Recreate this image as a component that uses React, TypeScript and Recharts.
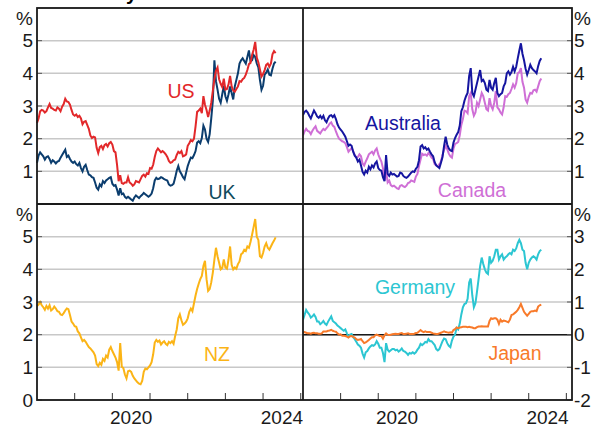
import React from 'react';
import { LineChart, Line, XAxis, YAxis, CartesianGrid, ReferenceLine } from 'recharts';

// semi-monthly readings, Jan 2018 to May 2024
const START_YEAR = 2018;
const STEPS_PER_YEAR = 24;

const usYields = [
  2.48, 2.62, 2.84, 2.88, 2.86, 2.80, 2.84, 2.96, 3.06, 2.94, 2.92, 2.88, 2.86, 2.96, 2.92, 2.84, 2.98, 3.06, 3.22, 3.14, 3.12, 3.04, 2.88, 2.74,
  2.70, 2.74, 2.66, 2.70, 2.62, 2.44, 2.52, 2.54, 2.42, 2.30, 2.10, 2.02, 2.06, 2.04, 1.72, 1.56, 1.74, 1.78, 1.68, 1.80, 1.84, 1.76, 1.86, 1.90,
  1.82, 1.62, 1.58, 1.20, 0.70, 0.88, 0.64, 0.62, 0.66, 0.66, 0.82, 0.66, 0.62, 0.56, 0.60, 0.70, 0.68, 0.66, 0.76, 0.86, 0.90, 0.84, 0.94, 0.92,
  1.10, 1.08, 1.20, 1.44, 1.62, 1.70, 1.64, 1.58, 1.62, 1.58, 1.52, 1.44, 1.32, 1.26, 1.28, 1.34, 1.36, 1.50, 1.60, 1.56, 1.62, 1.46, 1.48, 1.52,
  1.78, 1.86, 1.96, 1.92, 2.00, 2.38, 2.82, 2.86, 2.92, 2.78, 3.30, 3.04, 2.88, 2.66, 2.86, 3.10, 3.46, 3.82, 4.08, 4.18, 3.82, 3.68, 3.58, 3.84,
  3.50, 3.52, 3.66, 3.92, 3.60, 3.48, 3.44, 3.52, 3.60, 3.76, 3.74, 3.82, 3.86, 3.96, 4.10, 4.28, 4.32, 4.56, 4.72, 4.96, 4.48, 4.34, 4.12, 3.90,
  3.98, 4.10, 4.26, 4.30, 4.20, 4.30, 4.58, 4.68, 4.62,
];

const ukYields = [
  1.26, 1.48, 1.58, 1.52, 1.46, 1.36, 1.44, 1.46, 1.38, 1.26, 1.34, 1.30, 1.24, 1.30, 1.32, 1.42, 1.50, 1.58, 1.66, 1.44, 1.48, 1.38, 1.30, 1.26,
  1.30, 1.22, 1.18, 1.26, 1.10, 1.00, 1.14, 1.20, 1.04, 0.90, 0.88, 0.82, 0.80, 0.66, 0.50, 0.44, 0.60, 0.54, 0.70, 0.64, 0.72, 0.76, 0.80, 0.82,
  0.62, 0.56, 0.58, 0.44, 0.26, 0.48, 0.30, 0.32, 0.22, 0.18, 0.22, 0.18, 0.14, 0.10, 0.20, 0.26, 0.22, 0.18, 0.24, 0.28, 0.34, 0.30, 0.26, 0.22,
  0.26, 0.32, 0.48, 0.72, 0.80, 0.76, 0.78, 0.82, 0.80, 0.76, 0.74, 0.72, 0.60, 0.56, 0.58, 0.62, 0.80, 1.02, 1.16, 1.00, 0.92, 0.82, 0.76, 0.96,
  1.16, 1.30, 1.42, 1.40, 1.50, 1.62, 1.88, 1.92, 1.86, 2.02, 2.40, 2.28, 2.00, 1.90, 2.14, 2.62, 3.16, 4.40, 3.76, 3.50, 3.22, 3.10, 3.36, 3.62,
  3.30, 3.16, 3.36, 3.60, 3.40, 3.20, 3.60, 3.80, 4.00, 4.30, 4.40, 4.46, 4.38, 4.30, 4.50, 4.70, 4.36, 4.40, 4.56, 4.50, 4.30, 4.18, 3.80, 3.50,
  3.62, 3.96, 4.02, 4.12, 3.96, 3.94, 4.14, 4.30, 4.36,
];

const australiaYields = [
  2.72, 2.82, 2.86, 2.80, 2.70, 2.62, 2.74, 2.86, 2.78, 2.68, 2.64, 2.70, 2.62, 2.70, 2.56, 2.50, 2.62, 2.70, 2.72, 2.66, 2.72, 2.60, 2.44, 2.34,
  2.28, 2.22, 2.14, 2.06, 1.92, 1.78, 1.82, 1.78, 1.60, 1.48, 1.42, 1.30, 1.36, 1.18, 0.98, 0.90, 1.02, 0.96, 1.14, 1.06, 1.18, 1.12, 1.24, 1.30,
  1.10, 1.04, 1.02, 0.82, 0.70, 1.50, 0.92, 0.86, 0.96, 0.90, 0.92, 0.88, 0.84, 0.86, 0.96, 0.94, 0.86, 0.82, 0.80, 0.84, 0.90, 0.96, 1.00, 0.98,
  1.08, 1.14, 1.34, 1.76, 1.80, 1.70, 1.74, 1.66, 1.70, 1.60, 1.52, 1.46, 1.28, 1.18, 1.14, 1.10, 1.26, 1.44, 1.78, 2.06, 1.82, 1.70, 1.64, 1.62,
  1.88, 2.02, 2.12, 2.20, 2.40, 2.84, 2.96, 3.16, 3.30, 3.40, 3.92, 4.16, 3.40, 3.30, 3.50, 3.70, 3.90, 4.10, 3.76, 3.80, 3.70, 3.50, 3.46, 3.80,
  3.56, 3.50, 3.70, 3.86, 3.40, 3.30, 3.36, 3.40, 3.60, 3.70, 4.00, 4.06, 3.96, 4.04, 4.20, 4.06, 4.20, 4.46, 4.70, 4.92, 4.60, 4.40, 4.14, 3.96,
  4.10, 4.26, 4.16, 4.10, 4.06, 4.00, 4.22, 4.38, 4.46,
];

const canadaYields = [
  2.10, 2.22, 2.30, 2.24, 2.22, 2.14, 2.24, 2.32, 2.38, 2.24, 2.20, 2.16, 2.24, 2.30, 2.26, 2.32, 2.38, 2.46, 2.50, 2.40, 2.36, 2.22, 2.10, 2.00,
  1.96, 1.92, 1.90, 1.86, 1.74, 1.60, 1.66, 1.72, 1.62, 1.50, 1.42, 1.44, 1.52, 1.46, 1.24, 1.18, 1.30, 1.40, 1.52, 1.56, 1.60, 1.52, 1.64, 1.70,
  1.52, 1.40, 1.30, 1.10, 0.72, 1.04, 0.66, 0.72, 0.58, 0.54, 0.56, 0.52, 0.48, 0.46, 0.56, 0.58, 0.54, 0.52, 0.56, 0.64, 0.66, 0.72, 0.70, 0.68,
  0.84, 0.92, 1.16, 1.36, 1.54, 1.50, 1.52, 1.48, 1.56, 1.50, 1.42, 1.38, 1.22, 1.18, 1.16, 1.22, 1.30, 1.50, 1.66, 1.78, 1.68, 1.54, 1.46, 1.42,
  1.70, 1.84, 1.86, 1.90, 2.10, 2.42, 2.60, 2.86, 2.84, 2.78, 3.30, 3.40, 2.90, 2.70, 2.80, 3.10, 3.00, 3.20, 3.40, 3.30, 3.10, 2.90, 2.86, 3.24,
  3.00, 2.90, 3.10, 3.46, 2.96, 2.90, 2.80, 2.74, 2.96, 3.30, 3.28, 3.36, 3.40, 3.52, 3.66, 3.56, 3.70, 4.00, 4.04, 4.16, 3.74, 3.56, 3.20, 3.10,
  3.28, 3.40, 3.38, 3.48, 3.50, 3.44, 3.60, 3.76, 3.84,
];

const nzYields = [
  2.88, 2.92, 3.00, 2.90, 2.84, 2.76, 2.88, 2.80, 2.90, 2.74, 2.78, 2.86, 2.80, 2.72, 2.70, 2.62, 2.60, 2.66, 2.74, 2.80, 2.78, 2.60, 2.40, 2.34,
  2.26, 2.24, 2.10, 2.04, 1.92, 1.80, 1.84, 1.78, 1.70, 1.62, 1.58, 1.52, 1.46, 1.36, 1.10, 1.04, 1.14, 1.08, 1.26, 1.20, 1.36, 1.30, 1.54, 1.62,
  1.50, 1.40, 1.30, 1.16, 0.90, 1.74, 1.02, 0.98, 0.78, 0.66, 0.88, 0.90, 0.86, 0.74, 0.66, 0.60, 0.54, 0.50, 0.48, 0.58, 0.86, 0.96, 0.94, 1.00,
  1.06, 1.16, 1.40, 1.76, 1.84, 1.78, 1.82, 1.70, 1.76, 1.80, 1.72, 1.68, 1.78, 1.74, 1.80, 1.72, 1.96, 2.16, 2.50, 2.62, 2.44, 2.30, 2.34, 2.40,
  2.50, 2.70, 2.80, 2.72, 2.96, 3.20, 3.40, 3.56, 3.70, 3.80, 4.10, 4.26, 3.70, 3.34, 3.40, 3.60, 3.90, 4.30, 4.66, 4.40, 4.20, 4.00, 4.04, 4.30,
  4.06, 4.02, 4.30, 4.70, 4.14, 4.00, 4.06, 4.02, 4.16, 4.24, 4.46, 4.50, 4.60, 4.56, 4.70, 4.66, 4.84, 5.06, 5.30, 5.54, 5.00, 4.90, 4.40, 4.36,
  4.50, 4.70, 4.80, 4.66, 4.60, 4.70, 4.80, 4.88, 4.98,
];

const germanyYields = [
  0.46, 0.60, 0.76, 0.68, 0.62, 0.52, 0.56, 0.62, 0.54, 0.40, 0.40, 0.32, 0.36, 0.42, 0.34, 0.30, 0.40, 0.48, 0.56, 0.42, 0.38, 0.34, 0.28, 0.24,
  0.20, 0.16, 0.12, 0.16, 0.04, -0.06, 0.00, 0.02, -0.08, -0.14, -0.22, -0.30, -0.34, -0.40, -0.58, -0.70, -0.54, -0.50, -0.42, -0.36, -0.32, -0.34, -0.30, -0.20,
  -0.28, -0.40, -0.40, -0.56, -0.84, -0.26, -0.46, -0.52, -0.48, -0.44, -0.44, -0.48, -0.46, -0.52, -0.48, -0.42, -0.50, -0.52, -0.56, -0.62, -0.56, -0.58, -0.54, -0.58,
  -0.54, -0.46, -0.40, -0.28, -0.32, -0.28, -0.22, -0.24, -0.14, -0.20, -0.20, -0.26, -0.32, -0.44, -0.48, -0.44, -0.32, -0.20, -0.12, -0.14, -0.26, -0.34, -0.38, -0.18,
  -0.06, 0.00, 0.20, 0.16, 0.34, 0.62, 0.84, 0.94, 0.96, 1.10, 1.60, 1.72, 1.20, 0.84, 0.96, 1.32, 1.70, 2.10, 2.36, 2.16, 2.00, 1.90, 1.86, 2.40,
  2.20, 2.26, 2.40, 2.60, 2.60, 2.30, 2.40, 2.46, 2.30, 2.36, 2.40, 2.46, 2.50, 2.46, 2.60, 2.56, 2.64, 2.80, 2.90, 2.80, 2.60, 2.56, 2.20, 2.00,
  2.20, 2.30, 2.36, 2.40, 2.36, 2.30, 2.46, 2.56, 2.60,
];

const japanYields = [
  0.06, 0.08, 0.06, 0.04, 0.04, 0.03, 0.05, 0.06, 0.04, 0.04, 0.03, 0.03, 0.04, 0.10, 0.10, 0.10, 0.12, 0.13, 0.15, 0.12, 0.10, 0.09, 0.04, 0.00,
  0.01, -0.03, -0.03, -0.04, -0.06, -0.09, -0.05, -0.04, -0.07, -0.09, -0.14, -0.16, -0.15, -0.13, -0.20, -0.26, -0.24, -0.20, -0.16, -0.12, -0.08, -0.08, -0.02, 0.00,
  -0.02, -0.04, -0.04, -0.12, -0.02, 0.04, 0.00, -0.01, 0.00, 0.01, 0.02, 0.03, 0.02, 0.02, 0.04, 0.05, 0.02, 0.02, 0.03, 0.04, 0.02, 0.02, 0.02, 0.03,
  0.05, 0.06, 0.10, 0.14, 0.10, 0.08, 0.10, 0.08, 0.08, 0.08, 0.06, 0.04, 0.03, 0.02, 0.02, 0.04, 0.06, 0.08, 0.10, 0.08, 0.07, 0.06, 0.07, 0.06,
  0.14, 0.17, 0.22, 0.20, 0.22, 0.23, 0.24, 0.24, 0.24, 0.23, 0.24, 0.23, 0.22, 0.20, 0.20, 0.23, 0.25, 0.25, 0.26, 0.25, 0.25, 0.25, 0.25, 0.42,
  0.50, 0.48, 0.50, 0.50, 0.46, 0.33, 0.46, 0.40, 0.43, 0.42, 0.40, 0.38, 0.46, 0.60, 0.62, 0.66, 0.70, 0.76, 0.84, 0.94, 0.82, 0.70, 0.64, 0.58,
  0.64, 0.70, 0.72, 0.72, 0.74, 0.72, 0.86, 0.90, 0.92,
];

// axis ticks; the top tick of each panel carries the '%' unit label
const topTicks = [1, 2, 3, 4, 5, 6];
const nzTicks = [0, 1, 2, 3, 4, 5, 6];
const euroTicks = [-2, -1, 0, 1, 2, 3, 4];
const yearTicks = [2019, 2020, 2020.5, 2021, 2022, 2023, 2024, 2024.5, 2025];

const rows = usYields.map((_, i) => ({
  t: START_YEAR + i / STEPS_PER_YEAR,
  us: usYields[i],
  uk: ukYields[i],
  australia: australiaYields[i],
  canada: canadaYields[i],
  nz: nzYields[i],
  germany: germanyYields[i],
  japan: japanYields[i],
}));

const FONT = '"Liberation Sans", Arial, sans-serif';
const INK = '#1a1a1a';
const GRID = '#c8c8c8';

const COLORS = {
  us: '#e2282a',
  uk: '#0b3d6e',
  ukLabel: '#0e4a5c',
  australia: '#1515a0',
  canada: '#cf6fd6',
  nz: '#fbb416',
  germany: '#2cc6d2',
  japan: '#f87a2a',
};

const leftDomain: [number, number] = [2018, 2025.06];
const rightDomain: [number, number] = [2018, 2025.15];

const LeftTick = ({ x, y, payload, top }: any) => {
  if (payload.value === top) {
    return (
      <text x={x - 4} y={y + 10} dy="0.35em" textAnchor="end" fontSize={19} fontFamily={FONT} fill={INK}>
        %
      </text>
    );
  }
  return (
    <g>
      <line x1={x} y1={y} x2={x + 5} y2={y} stroke="#555" strokeWidth={1} />
      <text x={x - 4} y={y} dy="0.35em" textAnchor="end" fontSize={19} fontFamily={FONT} fill={INK}>
        {payload.value}
      </text>
    </g>
  );
};

const RightTick = ({ x, y, payload, top }: any) => {
  if (payload.value === top) {
    return (
      <text x={x + 2} y={y + 10} dy="0.35em" textAnchor="start" fontSize={19} fontFamily={FONT} fill={INK}>
        %
      </text>
    );
  }
  return (
    <g>
      <line x1={x} y1={y} x2={x - 5} y2={y} stroke="#555" strokeWidth={1} />
      <text x={x + 2} y={y} dy="0.35em" textAnchor="start" fontSize={19} fontFamily={FONT} fill={INK}>
        {payload.value}
      </text>
    </g>
  );
};

// whole years get an inward tick mark, mid-years carry the year label
const YearTick = ({ x, y, payload }: any) => {
  if (Number.isInteger(payload.value)) {
    return <line x1={x} y1={y} x2={x} y2={y - 7} stroke="#333" strokeWidth={1} />;
  }
  return (
    <text x={x} y={y + 24} textAnchor="middle" fontSize={19} fontFamily={FONT} fill={INK}>
      {Math.floor(payload.value)}
    </text>
  );
};

const lineProps = {
  type: 'linear' as const,
  dot: false,
  activeDot: false,
  strokeWidth: 2,
  isAnimationActive: false,
};

const seriesLabels = [
  { text: 'US', x: 181, y: 91, color: COLORS.us },
  { text: 'UK', x: 222, y: 192, color: COLORS.ukLabel },
  { text: 'Australia', x: 403, y: 123, color: COLORS.australia },
  { text: 'Canada', x: 472, y: 190, color: COLORS.canada },
  { text: 'NZ', x: 217, y: 354, color: COLORS.nz },
  { text: 'Germany', x: 415, y: 287, color: COLORS.germany },
  { text: 'Japan', x: 515, y: 353, color: COLORS.japan },
];

const App: React.FC = () => {
  return (
    <div style={{ position: 'absolute', left: 0, top: 0, width: 597, height: 430, background: '#fff', overflow: 'hidden' }}>
      {/* top left: US and UK */}
      <div style={{ position: 'absolute', left: 0, top: 0 }}>
        <LineChart width={303} height={204} data={rows} margin={{ top: 8, right: 0, bottom: 0, left: 0 }}>
          <CartesianGrid vertical={false} stroke={GRID} strokeWidth={1.5} />
          <XAxis dataKey="t" type="number" domain={leftDomain} hide />
          <YAxis
            type="number"
            domain={[0, 6]}
            ticks={topTicks}
            interval={0}
            width={37}
            axisLine={false}
            tickLine={false}
            tickSize={0}
            tickMargin={0}
            tick={(p: any) => <LeftTick {...p} top={6} />}
          />
          <Line dataKey="uk" stroke={COLORS.uk} {...lineProps} />
          <Line dataKey="us" stroke={COLORS.us} {...lineProps} />
        </LineChart>
      </div>

      {/* top right: Australia and Canada */}
      <div style={{ position: 'absolute', left: 303, top: 0 }}>
        <LineChart width={294} height={204} data={rows} margin={{ top: 8, right: 0, bottom: 0, left: 0 }}>
          <CartesianGrid vertical={false} stroke={GRID} strokeWidth={1.5} />
          <XAxis dataKey="t" type="number" domain={rightDomain} hide />
          <YAxis
            orientation="right"
            type="number"
            domain={[0, 6]}
            ticks={topTicks}
            interval={0}
            width={25}
            axisLine={false}
            tickLine={false}
            tickSize={0}
            tickMargin={0}
            tick={(p: any) => <RightTick {...p} top={6} />}
          />
          <Line dataKey="canada" stroke={COLORS.canada} {...lineProps} />
          <Line dataKey="australia" stroke={COLORS.australia} {...lineProps} />
        </LineChart>
      </div>

      {/* bottom left: NZ */}
      <div style={{ position: 'absolute', left: 0, top: 204 }}>
        <LineChart width={303} height={226} data={rows} margin={{ top: 0, right: 0, bottom: 0, left: 0 }}>
          <CartesianGrid vertical={false} stroke={GRID} strokeWidth={1.5} />
          <XAxis
            dataKey="t"
            type="number"
            domain={leftDomain}
            ticks={yearTicks}
            interval={0}
            height={30}
            axisLine={false}
            tickLine={false}
            tickSize={0}
            tickMargin={0}
            tick={(p: any) => <YearTick {...p} />}
          />
          <YAxis
            type="number"
            domain={[0, 6]}
            ticks={nzTicks}
            interval={0}
            width={37}
            axisLine={false}
            tickLine={false}
            tickSize={0}
            tickMargin={0}
            tick={(p: any) => <LeftTick {...p} top={6} />}
          />
          <Line dataKey="nz" stroke={COLORS.nz} {...lineProps} />
        </LineChart>
      </div>

      {/* bottom right: Germany and Japan */}
      <div style={{ position: 'absolute', left: 303, top: 204 }}>
        <LineChart width={294} height={226} data={rows} margin={{ top: 0, right: 0, bottom: 0, left: 0 }}>
          <CartesianGrid vertical={false} stroke={GRID} strokeWidth={1.5} />
          <XAxis
            dataKey="t"
            type="number"
            domain={rightDomain}
            ticks={yearTicks}
            interval={0}
            height={30}
            axisLine={false}
            tickLine={false}
            tickSize={0}
            tickMargin={0}
            tick={(p: any) => <YearTick {...p} />}
          />
          <YAxis
            orientation="right"
            type="number"
            domain={[-2, 4]}
            ticks={euroTicks}
            interval={0}
            width={25}
            axisLine={false}
            tickLine={false}
            tickSize={0}
            tickMargin={0}
            tick={(p: any) => <RightTick {...p} top={4} />}
          />
          <ReferenceLine y={0} stroke={INK} strokeWidth={1.5} />
          <Line dataKey="germany" stroke={COLORS.germany} {...lineProps} />
          <Line dataKey="japan" stroke={COLORS.japan} {...lineProps} />
        </LineChart>
      </div>

      {/* panel frame, title (cropped at the top edge) and series labels */}
      <svg width={597} height={430} style={{ position: 'absolute', left: 0, top: 0, pointerEvents: 'none' }}>
        <text x={97} y={-0.5} fontSize={20} fontWeight="bold" fontFamily={FONT} fill="#000">
          10-year Government Bond Yields
        </text>
        <rect x={37} y={8} width={535} height={392} fill="none" stroke={INK} strokeWidth={1.8} />
        <line x1={303} y1={8} x2={303} y2={400} stroke={INK} strokeWidth={1.8} />
        <line x1={37} y1={204} x2={572} y2={204} stroke={INK} strokeWidth={1.8} />
        {seriesLabels.map((l) => (
          <text
            key={l.text}
            x={l.x}
            y={l.y}
            dy="0.35em"
            textAnchor="middle"
            fontSize={19.5}
            fontFamily={FONT}
            fill={l.color}
          >
            {l.text}
          </text>
        ))}
      </svg>
    </div>
  );
};

export default App;
